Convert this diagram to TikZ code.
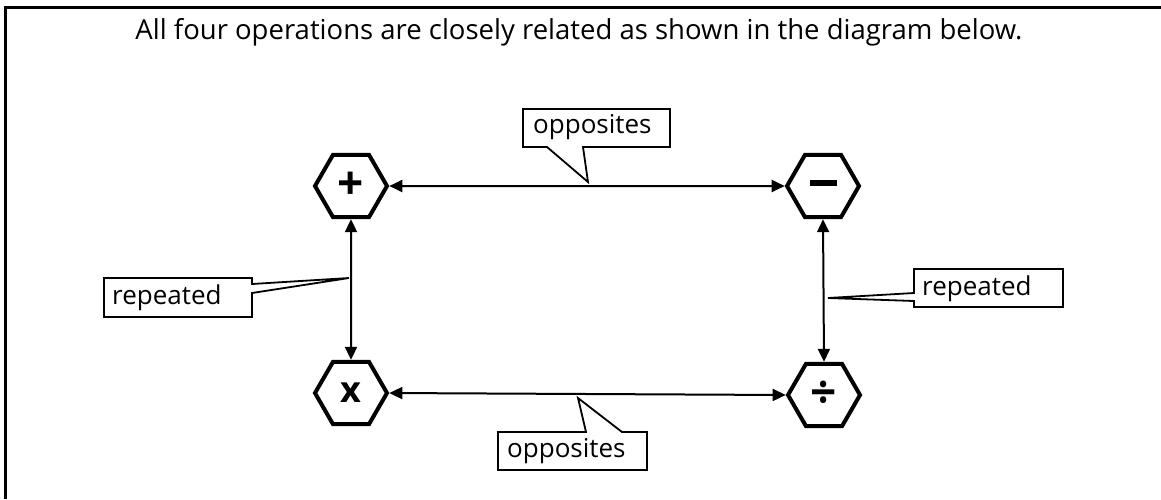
\documentclass[tikz,border=0pt]{standalone}
\usepackage{fontspec}
\setmainfont{Open Sans}
\usetikzlibrary{shapes.geometric,arrows.meta}
\tikzset{
  hexa/.style={regular polygon, regular polygon sides=6, minimum size=72pt, inner sep=0pt, draw, line width=4pt, font=\fontsize{32}{32}\selectfont\bfseries},
  rel/.style={line width=2pt, {Triangle[length=13pt,width=12pt]}-{Triangle[length=13pt,width=12pt]}},
  calltext/.style={font=\fontsize{26}{30}\selectfont, inner sep=0pt},
  callshape/.style={draw, line width=1.8pt, fill=white, line join=miter},
  frame/.style={line width=3pt}
}
\begin{document}
\begin{tikzpicture}[x=1pt,y=-1pt]
\useasboundingbox (0,0) rectangle (1161,499);
% frame
\coordinate (fbl) at (5,499);
\coordinate (ftl) at (5,7);
\coordinate (ftr) at (1161,7);
\draw[frame] (fbl) -- (ftl) -- (ftr);
\node[font=\fontsize{27.5}{30}\selectfont, inner sep=0pt] (title) at (579,32) {All four operations are closely related as shown in the diagram below.};
% hexagons
\node[hexa] (plus) at (351,186) {\fontsize{46}{46}\selectfont +};
\node[hexa] (minus) at (823,186) {\rule[7pt]{27pt}{6pt}};
\node[hexa] (times) at (351,393) {\fontsize{36}{36}\selectfont x};
\node[hexa] (div) at (824,395) {\fontsize{46}{46}\selectfont ÷};
% connectors
\draw[rel] (plus.east) -- (minus.west);
\draw[rel] (times.east) -- (div.west);
\draw[rel] (plus.south) -- (times.north);
\draw[rel] (minus.south) -- (div.north);
% callouts
\draw[callshape] (523,109) -- (670,109) -- (670,147) -- (583,147) -- (588,182) -- (547,147) -- (523,147) -- cycle;
\node[calltext, anchor=west] (optop) at (533,127) {opposites};
\draw[callshape] (498,432) -- (586,432) -- (578,398) -- (622,432) -- (647,432) -- (647,470) -- (498,470) -- cycle;
\node[calltext, anchor=west] (opbot) at (507,451) {opposites};
\draw[callshape] (104,278) -- (252,278) -- (252,284) -- (349,278) -- (252,293) -- (252,317) -- (104,317) -- cycle;
\node[calltext, anchor=west] (repl) at (112,298) {repeated};
\draw[callshape] (914,269) -- (1063,269) -- (1063,307) -- (914,307) -- (914,301) -- (828,298) -- (914,293) -- cycle;
\node[calltext, anchor=west] (repr) at (922,289) {repeated};
\end{tikzpicture}
\end{document}
